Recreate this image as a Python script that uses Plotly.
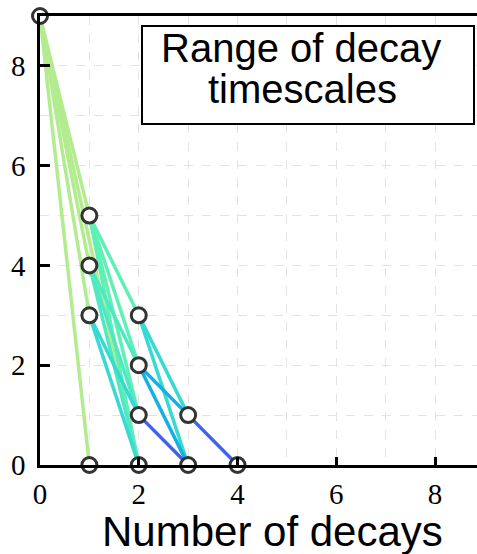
import plotly.graph_objects as go

# ---- data ----
node_x = [0, 1, 1, 1, 1, 2, 2, 2, 2, 3, 3, 4]
node_y = [9, 5, 4, 3, 0, 3, 2, 1, 0, 1, 0, 0]

edge_x0 = [0, 0, 0, 0, 0,
           1, 1, 1, 1,
           1, 1, 1,
           1, 1,
           2, 2,
           2, 2,
           2,
           3]
edge_y0 = [9, 9, 9, 9, 9,
           5, 5, 5, 5,
           4, 4, 4,
           3, 3,
           3, 3,
           2, 2,
           1,
           1]
edge_x1 = [1, 1, 1, 1, 2,
           2, 2, 2, 2,
           2, 2, 2,
           2, 2,
           3, 3,
           3, 3,
           3,
           4]
edge_y1 = [0, 3, 4, 5, 0,
           3, 2, 1, 0,
           2, 1, 0,
           1, 0,
           1, 0,
           1, 0,
           0,
           0]

level_values = [9, 5, 4, 3, 2, 1]
level_colors = ["#b3ec8f", "#5ff0b5", "#4fe8c2", "#36dad3", "#12b0e6", "#3f62f0"]

x_tick_vals = [0, 2, 4, 6, 8]
y_tick_vals = [0, 2, 4, 6, 8]
x_title = "Number of decays"
legend_lines = ["Range of decay", "timescales"]

color_of = dict(zip(level_values, level_colors))

fig = go.Figure()
for x0, y0, x1, y1 in zip(edge_x0, edge_y0, edge_x1, edge_y1):
    fig.add_trace(go.Scatter(x=[x0, x1], y=[y0, y1], mode="lines",
                             line=dict(color=color_of[y0], width=3.5),
                             hoverinfo="skip", showlegend=False))

fig.add_trace(go.Scatter(x=node_x, y=node_y, mode="markers",
                         marker=dict(size=15, color="white",
                                     line=dict(color="#333333", width=3)),
                         cliponaxis=False, showlegend=False))

# pixel helpers for annotation placement
L, T, B, W, H = 40, 16, 465, 437, 449
def px(x):
    return (x - L) / W
def py(y):
    return (B - y) / H

tickfont = dict(family="Liberation Serif", size=29, color="black")
gridkw = dict(showgrid=True, gridcolor="#e3e3e3", griddash="dash", gridwidth=1)

fig.update_layout(
    width=477, height=554,
    margin=dict(l=40, r=0, t=16, b=89),
    plot_bgcolor="white", paper_bgcolor="white",
    xaxis=dict(range=[0, 8.85], tickvals=x_tick_vals, ticks="inside", ticklen=8,
               tickwidth=2.5, tickcolor="black", showline=True, linecolor="black",
               linewidth=2.5, mirror=True, zeroline=False, ticklabelstandoff=1,
               minor=dict(dtick=1, **gridkw), tickfont=tickfont, **gridkw),
    yaxis=dict(range=[0, 9], tickvals=y_tick_vals, ticks="inside", ticklen=10,
               tickwidth=2.5, tickcolor="black", showline=True, linecolor="black",
               linewidth=2.5, mirror=False, zeroline=False, ticklabelstandoff=6,
               minor=dict(dtick=1, **gridkw), tickfont=tickfont, **gridkw),
    shapes=[dict(type="rect", xref="paper", yref="paper",
                 x0=px(142), x1=px(474), y0=py(124), y1=py(26),
                 line=dict(color="black", width=2), fillcolor="white", layer="above")],
    annotations=[
        dict(text=legend_lines[0], xref="paper", yref="paper", x=px(301), y=py(48),
             xanchor="center", yanchor="middle", showarrow=False,
             font=dict(family="Liberation Sans", size=40, color="black")),
        dict(text=legend_lines[1], xref="paper", yref="paper", x=px(302), y=py(89),
             xanchor="center", yanchor="middle", showarrow=False,
             font=dict(family="Liberation Sans", size=40, color="black")),
        dict(text=x_title, xref="paper", yref="paper", x=px(272), y=py(531),
             xanchor="center", yanchor="middle", showarrow=False,
             font=dict(family="Liberation Sans", size=42, color="black")),
    ],
)

fig.write_html("out.html")
